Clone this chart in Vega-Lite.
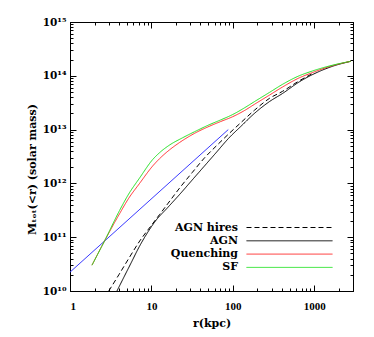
{
  "$schema": "https://vega.github.io/schema/vega-lite/v6.json",
  "width": 283,
  "height": 269,
  "autosize": {"type": "none"},
  "padding": {"left": 70, "top": 22, "right": 21, "bottom": 46},
  "background": "white",
  "config": {
    "view": {"stroke": "black", "strokeWidth": 1},
    "axis": {
      "domainColor": "black", "tickColor": "black", "labelColor": "black", "titleColor": "black",
      "grid": false, "tickWidth": 1, "domainWidth": 1,
      "labelFont": "Liberation Serif", "labelFontWeight": "bold", "labelFontSize": 11,
      "titleFont": "DejaVu Serif", "titleFontWeight": "bold", "titleFontSize": 11
    }
  },
  "resolve": {"axis": {"x": "independent", "y": "independent"}},
  "layer": [
    {
      "data": {"values": [{"r": 1, "M": 2.24e10}, {"r": 88, "M": 1.0e13}]},
      "mark": {"type": "line", "color": "#3a3aff", "strokeWidth": 1, "clip": true},
      "encoding": {
        "x": {"field": "r", "type": "quantitative",
          "scale": {"type": "log", "domain": [1, 3000], "nice": false},
          "axis": {"orient": "bottom", "values": [1, 10, 100, 1000], "format": "d", "tickSize": -6, "labelPadding": 15,
            "title": "r(kpc)", "titleX": 141.5, "titleY": 32, "titleBaseline": "middle", "titleAlign": "center"}},
        "y": {"field": "M", "type": "quantitative",
          "scale": {"type": "log", "domain": [1e10, 1e15], "nice": false},
          "axis": {"orient": "left", "values": [1e10, 1e11, 1e12, 1e13, 1e14, 1e15], "tickSize": -6, "labelPadding": 10,
            "labelFont": "DejaVu Serif", "labelFontSize": 10.5,
            "labelExpr": "datum.value < 5e10 ? '10¹⁰' : datum.value < 5e11 ? '10¹¹' : datum.value < 5e12 ? '10¹²' : datum.value < 5e13 ? '10¹³' : datum.value < 5e14 ? '10¹⁴' : '10¹⁵'",
            "title": "Mₜₒₜ(<r) (solar mass)", "titleX": -38, "titleY": 147, "titleBaseline": "middle", "titleAlign": "center", "titleAngle": 270}}
      }
    },
    {
      "data": {"values": [
        {"series": "AGN hires", "r": 2.992, "M": 1.0e10},
        {"series": "AGN hires", "r": 3.981, "M": 2.0e10},
        {"series": "AGN hires", "r": 5.248, "M": 3.98e10},
        {"series": "AGN hires", "r": 7.194, "M": 8.51e10},
        {"series": "AGN hires", "r": 10.0, "M": 1.66e11},
        {"series": "AGN hires", "r": 12.59, "M": 2.63e11},
        {"series": "AGN hires", "r": 15.85, "M": 4.17e11},
        {"series": "AGN hires", "r": 22.39, "M": 8.32e11},
        {"series": "AGN hires", "r": 31.62, "M": 1.58e12},
        {"series": "AGN hires", "r": 44.67, "M": 2.95e12},
        {"series": "AGN hires", "r": 63.1, "M": 5.01e12},
        {"series": "AGN hires", "r": 89.13, "M": 8.32e12},
        {"series": "AGN hires", "r": 125.9, "M": 1.35e13},
        {"series": "AGN hires", "r": 184.5, "M": 2.29e13},
        {"series": "AGN hires", "r": 281.8, "M": 3.8e13},
        {"series": "AGN hires", "r": 407.4, "M": 5.13e13},
        {"series": "AGN hires", "r": 660.7, "M": 8.13e13},
        {"series": "AGN hires", "r": 955, "M": 1.1e14},
        {"series": "AGN", "r": 3.776, "M": 1.0e10},
        {"series": "AGN", "r": 4.467, "M": 1.66e10},
        {"series": "AGN", "r": 5.623, "M": 3.31e10},
        {"series": "AGN", "r": 7.079, "M": 6.61e10},
        {"series": "AGN", "r": 8.913, "M": 1.2e11},
        {"series": "AGN", "r": 11.22, "M": 2.0e11},
        {"series": "AGN", "r": 15.85, "M": 3.55e11},
        {"series": "AGN", "r": 22.39, "M": 6.31e11},
        {"series": "AGN", "r": 31.62, "M": 1.15e12},
        {"series": "AGN", "r": 44.67, "M": 2.09e12},
        {"series": "AGN", "r": 63.1, "M": 3.8e12},
        {"series": "AGN", "r": 89.13, "M": 6.92e12},
        {"series": "AGN", "r": 125.9, "M": 1.15e13},
        {"series": "AGN", "r": 184.5, "M": 2.0e13},
        {"series": "AGN", "r": 281.8, "M": 3.31e13},
        {"series": "AGN", "r": 407.4, "M": 4.68e13},
        {"series": "AGN", "r": 660.7, "M": 7.76e13},
        {"series": "AGN", "r": 1148, "M": 1.2e14},
        {"series": "AGN", "r": 1698, "M": 1.51e14},
        {"series": "AGN", "r": 2818, "M": 1.86e14},
        {"series": "Quenching", "r": 1.862, "M": 3.02e10},
        {"series": "Quenching", "r": 2.667, "M": 8.61e10},
        {"series": "Quenching", "r": 4.074, "M": 2.75e11},
        {"series": "Quenching", "r": 5.248, "M": 5.25e11},
        {"series": "Quenching", "r": 7.161, "M": 1.0e12},
        {"series": "Quenching", "r": 10.47, "M": 2.14e12},
        {"series": "Quenching", "r": 12.59, "M": 2.88e12},
        {"series": "Quenching", "r": 16.6, "M": 4.17e12},
        {"series": "Quenching", "r": 22.18, "M": 5.75e12},
        {"series": "Quenching", "r": 33.88, "M": 8.51e12},
        {"series": "Quenching", "r": 51.29, "M": 1.15e13},
        {"series": "Quenching", "r": 70.79, "M": 1.41e13},
        {"series": "Quenching", "r": 100, "M": 1.74e13},
        {"series": "Quenching", "r": 141.3, "M": 2.29e13},
        {"series": "Quenching", "r": 184.5, "M": 2.95e13},
        {"series": "Quenching", "r": 281.8, "M": 4.37e13},
        {"series": "Quenching", "r": 407.4, "M": 6.17e13},
        {"series": "Quenching", "r": 631, "M": 8.91e13},
        {"series": "Quenching", "r": 955, "M": 1.15e14},
        {"series": "Quenching", "r": 1698, "M": 1.55e14},
        {"series": "Quenching", "r": 2818, "M": 1.86e14},
        {"series": "SF", "r": 1.862, "M": 3.02e10},
        {"series": "SF", "r": 2.667, "M": 8.61e10},
        {"series": "SF", "r": 4.074, "M": 3.16e11},
        {"series": "SF", "r": 5.248, "M": 6.31e11},
        {"series": "SF", "r": 7.161, "M": 1.26e12},
        {"series": "SF", "r": 10.47, "M": 2.82e12},
        {"series": "SF", "r": 12.59, "M": 3.72e12},
        {"series": "SF", "r": 16.6, "M": 5.13e12},
        {"series": "SF", "r": 24.32, "M": 7.08e12},
        {"series": "SF", "r": 33.88, "M": 9.12e12},
        {"series": "SF", "r": 51.29, "M": 1.23e13},
        {"series": "SF", "r": 70.79, "M": 1.51e13},
        {"series": "SF", "r": 100, "M": 1.91e13},
        {"series": "SF", "r": 141.3, "M": 2.57e13},
        {"series": "SF", "r": 184.5, "M": 3.31e13},
        {"series": "SF", "r": 281.8, "M": 4.9e13},
        {"series": "SF", "r": 407.4, "M": 6.92e13},
        {"series": "SF", "r": 631, "M": 9.77e13},
        {"series": "SF", "r": 955, "M": 1.23e14},
        {"series": "SF", "r": 1698, "M": 1.58e14},
        {"series": "SF", "r": 2818, "M": 1.86e14}
      ]},
      "mark": {"type": "line", "strokeWidth": 1, "clip": true, "interpolate": "monotone"},
      "encoding": {
        "x": {"field": "r", "type": "quantitative",
          "scale": {"type": "log", "domain": [1, 3000], "nice": false},
          "axis": {"orient": "top", "values": [1, 10, 100, 1000], "tickSize": -6, "labels": false, "title": null}},
        "y": {"field": "M", "type": "quantitative",
          "scale": {"type": "log", "domain": [1e10, 1e15], "nice": false},
          "axis": {"orient": "right", "values": [1e10, 1e11, 1e12, 1e13, 1e14, 1e15], "tickSize": -6, "labels": false, "title": null}},
        "color": {"field": "series", "type": "nominal",
          "scale": {"domain": ["AGN hires", "AGN", "Quenching", "SF"], "range": ["black", "black", "#ff2a2a", "#1ee01e"]},
          "legend": {"orient": "none", "legendX": 214, "legendY": 200, "title": null, "padding": 0, "rowPadding": 1.3,
            "symbolType": "M-10,0H10", "symbolSize": 74, "symbolStrokeWidth": 1,
            "labelAlign": "right", "labelOffset": -57, "labelLimit": 0,
            "labelFont": "DejaVu Serif", "labelFontWeight": "bold", "labelFontSize": 11, "labelColor": "black"}},
        "strokeDash": {"field": "series", "type": "nominal",
          "scale": {"domain": ["AGN hires", "AGN", "Quenching", "SF"], "range": [[5, 3], [1, 0], [1, 0], [1, 0]]},
          "legend": {"orient": "none", "legendX": 214, "legendY": 200, "title": null, "padding": 0, "rowPadding": 1.3,
            "symbolType": "M-10,0H10", "symbolSize": 74, "symbolStrokeWidth": 1,
            "labelAlign": "right", "labelOffset": -57, "labelLimit": 0,
            "labelFont": "DejaVu Serif", "labelFontWeight": "bold", "labelFontSize": 11, "labelColor": "black"}}
      }
    },
    {
      "data": {"values": [{"r": 1, "M": 2.24e10}, {"r": 88, "M": 1.0e13}]},
      "mark": {"type": "line", "opacity": 0},
      "encoding": {
        "x": {"field": "r", "type": "quantitative",
          "scale": {"type": "log", "domain": [1, 3000], "nice": false},
          "axis": {"orient": "bottom", "domain": false, "labels": false, "title": null, "tickSize": -3,
            "values": [2, 3, 4, 5, 6, 7, 8, 9, 20, 30, 40, 50, 60, 70, 80, 90, 200, 300, 400, 500, 600, 700, 800, 900, 2000, 3000]}},
        "y": {"field": "M", "type": "quantitative",
          "scale": {"type": "log", "domain": [1e10, 1e15], "nice": false},
          "axis": {"orient": "left", "domain": false, "labels": false, "title": null, "tickSize": -3,
            "values": [2e10, 3e10, 4e10, 5e10, 6e10, 7e10, 8e10, 9e10, 2e11, 3e11, 4e11, 5e11, 6e11, 7e11, 8e11, 9e11, 2e12, 3e12, 4e12, 5e12, 6e12, 7e12, 8e12, 9e12, 2e13, 3e13, 4e13, 5e13, 6e13, 7e13, 8e13, 9e13, 2e14, 3e14, 4e14, 5e14, 6e14, 7e14, 8e14, 9e14]}}
      }
    },
    {
      "data": {"values": [{"r": 1, "M": 2.24e10}, {"r": 88, "M": 1.0e13}]},
      "mark": {"type": "line", "opacity": 0},
      "encoding": {
        "x": {"field": "r", "type": "quantitative",
          "scale": {"type": "log", "domain": [1, 3000], "nice": false},
          "axis": {"orient": "top", "domain": false, "labels": false, "title": null, "tickSize": -3,
            "values": [2, 3, 4, 5, 6, 7, 8, 9, 20, 30, 40, 50, 60, 70, 80, 90, 200, 300, 400, 500, 600, 700, 800, 900, 2000, 3000]}},
        "y": {"field": "M", "type": "quantitative",
          "scale": {"type": "log", "domain": [1e10, 1e15], "nice": false},
          "axis": {"orient": "right", "domain": false, "labels": false, "title": null, "tickSize": -3,
            "values": [2e10, 3e10, 4e10, 5e10, 6e10, 7e10, 8e10, 9e10, 2e11, 3e11, 4e11, 5e11, 6e11, 7e11, 8e11, 9e11, 2e12, 3e12, 4e12, 5e12, 6e12, 7e12, 8e12, 9e12, 2e13, 3e13, 4e13, 5e13, 6e13, 7e13, 8e13, 9e13, 2e14, 3e14, 4e14, 5e14, 6e14, 7e14, 8e14, 9e14]}}
      }
    }
  ]
}
